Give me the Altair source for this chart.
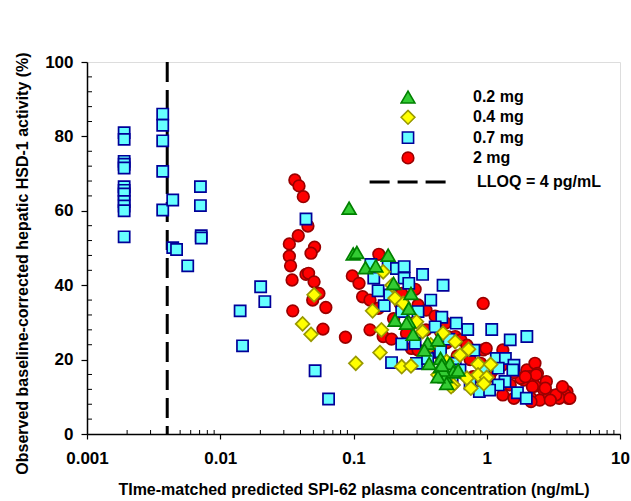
import altair as alt
import pandas as pd

# ---------------- data ----------------
doses = ["0.2 mg", "0.4 mg", "0.7 mg", "2 mg"]
draw_order = ["2 mg", "0.7 mg", "0.4 mg", "0.2 mg"]

x_2mg = [0.0363, 0.039, 0.042, 0.0455, 0.0385, 0.033, 0.051, 0.048, 0.033, 0.0337,
         0.044, 0.046, 0.0346, 0.0506, 0.055, 0.0494, 0.062, 0.035, 0.059, 0.087,
         0.098, 0.110, 0.117, 0.133, 0.133, 0.155, 0.154, 0.167, 0.193, 0.272,
         0.305, 0.224, 0.29, 0.305, 0.35, 0.41, 0.49, 0.51, 0.28, 0.4,
         0.43, 0.58, 0.64, 0.71, 0.94, 0.99, 1.32, 0.9, 0.79, 1.3,
         0.9, 0.94, 1.2, 2.0, 2.3, 2.4, 2.8, 2.3, 2.7, 1.9,
         1.8, 1.5, 1.32, 2.15, 2.5, 2.95, 3.4, 3.75, 4.0, 4.1,
         3.9, 3.5, 2.1, 2.75, 2.35, 1.95, 1.6, 2.2, 3.3, 3.7,
         4.2, 2.15, 3.0, 0.23, 0.235, 0.6, 0.75, 1.1, 0.5, 0.2,
         0.25, 1.05, 1.6, 0.35, 0.45]
y_2mg = [68.3, 66.7, 63.8, 55.9, 53.3, 51.1, 50.2, 48.6, 47.8, 45.2,
         42.9, 43.2, 41.4, 40.9, 37.8, 36.0, 34.0, 33.1, 28.2, 26.0,
         42.5, 40.5, 36.9, 36.0, 28.0, 48.3, 33.8, 26.2, 25.5, 23.0,
         22.6, 35.1, 38.9, 34.7, 33.3, 31.7, 29.8, 26.2, 29.8, 23.0,
         21.7, 26.2, 25.3, 23.9, 22.6, 23.0, 22.6, 19.0, 15.4, 18.5,
         15.0, 35.1, 20.3, 17.2, 19.0, 16.3, 14.1, 12.9, 11.6, 14.5,
         15.0, 13.2, 10.5, 9.6, 9.1, 10.5, 10.5, 11.8, 11.4, 9.6,
         10.5, 9.6, 15.4, 12.3, 15.9, 15.4, 9.6, 12.7, 10.5, 12.7,
         9.6, 8.7, 9.1, 37.8, 35.1, 21.0, 20.0, 17.0, 24.5, 31.0,
         27.0, 15.5, 16.5, 28.0, 27.5]

x_07mg = [0.0019, 0.0019, 0.0019, 0.0019, 0.0019, 0.0019, 0.0019, 0.0019, 0.0019, 0.0019,
          0.0019, 0.0019, 0.0037, 0.0037, 0.0037, 0.0037, 0.0037, 0.0044, 0.0071, 0.0071,
          0.0072, 0.0072, 0.0044, 0.0047, 0.0057, 0.0201, 0.0216, 0.0141, 0.0147, 0.044,
          0.0515, 0.065, 0.135, 0.142, 0.153, 0.182, 0.21, 0.24, 0.24, 0.33,
          0.47, 0.187, 0.23, 0.305, 0.46, 0.41, 0.59, 0.23, 0.29, 0.45,
          0.193, 0.297, 0.36, 0.58, 0.72, 1.09, 1.5, 2.0, 1.18, 1.38,
          1.22, 1.6, 1.57, 1.37, 1.22, 1.7, 1.98, 0.88, 0.63, 0.26,
          0.17, 0.38, 0.52, 0.8, 0.95, 0.55, 0.75, 1.05]
y_07mg = [81.0, 79.2, 73.3, 72.5, 71.5, 66.5, 65.5, 64.5, 62.5, 61.3,
          60.0, 53.0, 86.0, 83.0, 78.8, 70.6, 60.2, 62.9, 66.5, 61.4,
          53.3, 52.7, 50.1, 49.6, 45.2, 39.6, 35.6, 33.1, 23.7, 57.8,
          17.0, 9.4, 45.6, 41.9, 38.5, 45.0, 44.5, 45.0, 41.9, 42.9,
          40.0, 37.4, 32.9, 32.9, 31.4, 28.8, 29.8, 24.2, 24.4, 22.1,
          19.2, 19.0, 20.3, 19.0, 28.1, 28.1, 25.3, 26.2, 20.3, 20.3,
          17.7, 18.5, 17.2, 14.1, 13.2, 11.1, 9.6, 11.4, 17.2, 40.5,
          34.5, 36.0, 25.5, 22.5, 17.5, 14.5, 13.5, 11.8]

x_04mg = [0.0506, 0.0415, 0.048, 0.104, 0.139, 0.158, 0.162, 0.167, 0.195, 0.205,
          0.236, 0.297, 0.33, 0.23, 0.27, 0.47, 0.58, 0.43, 0.56, 0.73,
          0.63, 0.86, 1.07, 0.71, 0.86, 1.0, 0.76, 0.54, 0.38, 0.5,
          0.95]
y_04mg = [37.4, 29.6, 26.8, 19.0, 33.1, 21.9, 28.0, 43.6, 40.0, 36.5,
          35.1, 30.2, 27.5, 18.1, 18.3, 27.1, 24.8, 15.9, 13.2, 22.8,
          21.2, 18.8, 18.7, 15.0, 15.9, 15.2, 12.3, 12.7, 24.0, 19.5,
          13.5]

x_02mg = [0.0927, 0.0995, 0.106, 0.123, 0.147, 0.182, 0.2, 0.27, 0.26, 0.205,
          0.26, 0.28, 0.36, 0.43, 0.37, 0.45, 0.45, 0.53, 0.49, 0.5,
          0.56, 0.61, 0.47, 0.46, 0.43, 0.34, 0.25]
y_02mg = [60.7, 48.4, 48.8, 44.7, 45.2, 48.1, 40.5, 37.8, 33.8, 30.6,
          30.2, 26.8, 24.4, 25.3, 19.0, 20.3, 18.1, 19.0, 15.4, 13.6,
          16.7, 17.2, 17.2, 18.5, 15.4, 22.6, 29.8]

lloq_value = [0.004]
lloq_label = ["LLOQ = 4 pg/mL"]

x_ticks = [0.001, 0.01, 0.1, 1, 10]
x_minor = [m * d for d in [0.001, 0.01, 0.1, 1] for m in range(2, 10)]
y_ticks = [0, 20, 40, 60, 80, 100]
y_minor = [v for v in range(4, 100, 4) if v % 20 != 0]

shapes = ["triangle-up", "diamond", "square", "circle"]
fills = ["#33CC33", "#FFFF00", "#66FFFF", "#FF0000"]
strokes = ["#008000", "#999900", "#000099", "#990000"]
sizes = [190, 190, 125, 135]

# ---------------- frames ----------------
series = {"2 mg": (x_2mg, y_2mg), "0.7 mg": (x_07mg, y_07mg),
          "0.4 mg": (x_04mg, y_04mg), "0.2 mg": (x_02mg, y_02mg)}
rows = []
for d in draw_order:
    xs, ys = series[d]
    for a, b in zip(xs, ys):
        rows.append({"conc": a, "act": b, "dose": d})
pts = pd.DataFrame(rows)
lloq_df = pd.DataFrame({"conc": lloq_value, "lab": lloq_label})
xminor_df = pd.DataFrame({"conc": x_minor})
yminor_df = pd.DataFrame({"act": y_minor})

FONT = "Liberation Sans"
W, H = 533, 372

xscale = alt.Scale(type="log", domain=[0.001, 10], nice=False)
yscale = alt.Scale(domain=[0, 100], nice=False)

xaxis = alt.Axis(values=x_ticks, format="~g", tickSize=5, labelPadding=11,
                 labelFontSize=17, labelFontWeight="bold", labelFont=FONT,
                 title="TIme-matched predicted SPI-62 plasma concentration (ng/mL)",
                 titleFontSize=16, titleFontWeight="bold", titleFont=FONT,
                 titlePadding=15, grid=False, domainColor="black", tickColor="black",
                 domainWidth=1.5, tickWidth=1.2, labelColor="black", titleColor="black",
                 labelFlush=False)
yaxis = alt.Axis(values=y_ticks, tickSize=6, labelPadding=8,
                 labelFontSize=17, labelFontWeight="bold", labelFont=FONT,
                 title="Observed baseline-corrected hepatic HSD-1 activity (%)",
                 titleFontSize=16, titleFontWeight="bold", titleFont=FONT,
                 titlePadding=14, titleY=201, grid=False, domainColor="black",
                 tickColor="black", domainWidth=1.5, tickWidth=1.2,
                 labelColor="black", titleColor="black")

lloq = alt.Chart(lloq_df).mark_rule(strokeWidth=3, color="black").encode(
    x=alt.X("conc:Q", scale=xscale, axis=xaxis),
    strokeDash=alt.StrokeDash(
        "lab:N",
        scale=alt.Scale(domain=lloq_label, range=[[20, 8]]),
        legend=alt.Legend(orient="none", legendX=281, legendY=80, title=None,
                          symbolType="stroke", symbolSize=5900, symbolStrokeWidth=3,
                          symbolStrokeColor="black",
                          labelFont=FONT, labelFontSize=16, labelFontWeight="bold",
                          labelColor="black", labelOffset=29, padding=0),
    ),
)

xminor = alt.Chart(xminor_df).mark_rule(color="black", strokeWidth=1).encode(
    x=alt.X("conc:Q", scale=xscale),
    y=alt.value(H), y2=alt.value(H - 4),
)
yminor = alt.Chart(yminor_df).mark_rule(color="black", strokeWidth=1).encode(
    y=alt.Y("act:Q", scale=yscale),
    x=alt.value(0), x2=alt.value(5),
)

leg = alt.Legend(orient="none", legendX=313, legendY=27, title=None,
                 labelFont=FONT, labelFontSize=16, labelFontWeight="bold",
                 labelColor="black", labelOffset=57, rowPadding=4.3,
                 clipHeight=16, symbolStrokeWidth=1.6, padding=0)

points = alt.Chart(pts).mark_point(filled=True, strokeWidth=1.7, opacity=1).encode(
    x=alt.X("conc:Q", scale=xscale),
    y=alt.Y("act:Q", scale=yscale, axis=yaxis),
    shape=alt.Shape("dose:N", scale=alt.Scale(domain=doses, range=shapes), legend=leg),
    fill=alt.Fill("dose:N", scale=alt.Scale(domain=doses, range=fills), legend=leg),
    stroke=alt.Stroke("dose:N", scale=alt.Scale(domain=doses, range=strokes), legend=leg),
    size=alt.Size("dose:N", scale=alt.Scale(type="ordinal", domain=doses, range=sizes),
                  legend=leg),
    order=alt.value(0),
)

chart = alt.layer(lloq, xminor, yminor, points).properties(
    width=W, height=H,
    autosize=alt.AutoSizeParams(type="none"),
    padding={"left": 87, "top": 62, "right": 11, "bottom": 67},
).configure_view(stroke="#444444", strokeWidth=1.5).configure(background="white")

chart.save("out.html", embed_options={"renderer": "svg", "actions": False})
